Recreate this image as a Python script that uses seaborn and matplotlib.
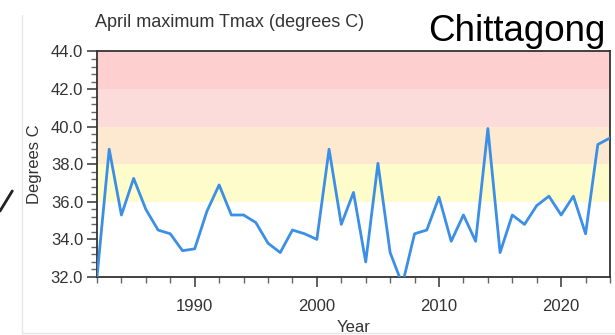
import numpy as np
import pandas as pd
import matplotlib
matplotlib.use("Agg")
import matplotlib.pyplot as plt
from matplotlib.lines import Line2D
from matplotlib.ticker import MultipleLocator, FormatStrFormatter
import seaborn as sns

years = list(range(1982, 2025))
tmax = [32.0, 38.8, 35.3, 37.25, 35.6, 34.5, 34.3, 33.4, 33.5, 35.5,
        36.9, 35.3, 35.3, 34.9, 33.8, 33.3, 34.5, 34.3, 34.0, 38.8,
        34.8, 36.5, 32.8, 38.05, 33.3, 31.6, 34.3, 34.5, 36.25, 33.9,
        35.3, 33.9, 39.9, 33.3, 35.3, 34.8, 35.8, 36.3, 35.3, 36.3,
        34.3, 39.05, 39.4]
band_edges = [36.0, 38.0, 40.0, 42.0, 44.0]
band_colors = ["#fefccb", "#fde9d0", "#fbdcdb", "#fecfcf"]

title = "April maximum Tmax (degrees C)"
station = "Chittagong"

sns.set_theme(style="ticks")
plt.rcParams['font.family'] = ['Liberation Sans', 'DejaVu Sans']

df = pd.DataFrame({"Year": years, "Tmax": tmax})

fig = plt.figure(figsize=(6.15, 3.35), dpi=100)
ax = fig.add_axes([0.1577, 0.1731, 0.8342, 0.6732])

for lo, hi, c in zip(band_edges[:-1], band_edges[1:], band_colors):
    ax.axhspan(lo, hi, color=c, lw=0, zorder=0)

sns.lineplot(data=df, x="Year", y="Tmax", ax=ax, color="#3b8fe6", lw=2.0, zorder=3)

ax.set_xlim(1982, 2024)
ax.set_ylim(32, 44)
ax.yaxis.set_major_locator(MultipleLocator(2))
ax.yaxis.set_minor_locator(MultipleLocator(0.4))
ax.yaxis.set_major_formatter(FormatStrFormatter("%.1f"))
ax.xaxis.set_major_locator(MultipleLocator(10))
ax.xaxis.set_minor_locator(MultipleLocator(2))

for s in ax.spines.values():
    s.set_color("#333333")
    s.set_linewidth(1.3)
    s.set_visible(True)

ax.tick_params(axis="both", which="major", direction="out", length=7, width=1.2,
               color="#444444", labelsize=12, labelcolor="#333333", pad=3)
ax.tick_params(axis="both", which="minor", direction="out", length=4, width=1.0,
               color="#666666")
ax.tick_params(axis="x", which="major", pad=9)

ax.set_xlabel("Year", fontsize=12, color="#333333", labelpad=4)
ax.set_ylabel("Degrees C", fontsize=12, color="#333333", labelpad=6)

fig.text(0.155, 0.932, title, fontsize=13, color="#333333", ha="left", va="center")
fig.text(0.985, 0.905, station, fontsize=26.5, color="#000000", ha="right", va="center")

# faint panel frame lines and left-edge stroke from the screenshot
fig.add_artist(Line2D([0.036, 0.036], [0.005, 0.955], color="#e6e6e6", lw=1.0))
fig.add_artist(Line2D([0.036, 1.0], [0.006, 0.006], color="#e6e6e6", lw=1.0))
fig.add_artist(Line2D([0.0, 0.02], [0.37, 0.43], color="#222222", lw=2.0))

fig.savefig("out.png", dpi=100)
